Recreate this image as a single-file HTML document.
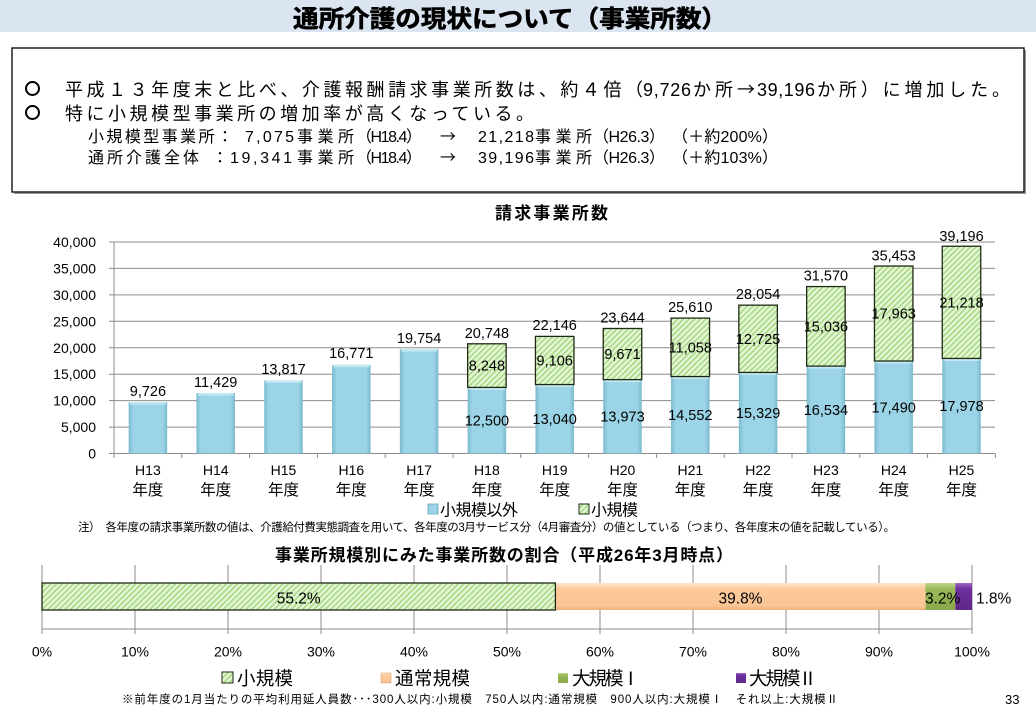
<!DOCTYPE html>
<html><head><meta charset="utf-8"><style>
html,body{margin:0;padding:0;background:#fff;}
svg{display:block;}
.jp{font-family:"Liberation Sans","Noto Sans CJK JP",sans-serif;}
.cjk{font-family:"Noto Sans CJK JP","Liberation Sans",sans-serif;}
.num{font-family:"Liberation Sans","Noto Sans CJK JP",sans-serif;}
</style></head><body>
<svg width="1036" height="716" viewBox="0 0 1036 716" xmlns="http://www.w3.org/2000/svg">
<defs>
<pattern id="hatch" patternUnits="userSpaceOnUse" width="4" height="4" patternTransform="rotate(45)">
<rect width="4" height="4" fill="#e8f7d8"/>
<rect width="1.7" height="4" fill="#a9da88"/>
</pattern>
<linearGradient id="blue" x1="0" y1="0" x2="1" y2="0">
<stop offset="0" stop-color="#7ab9ce"/><stop offset="0.12" stop-color="#9bd4e6"/>
<stop offset="0.88" stop-color="#9bd4e6"/><stop offset="1" stop-color="#7ab9ce"/>
</linearGradient>
<linearGradient id="peach" x1="0" y1="0" x2="0" y2="1">
<stop offset="0" stop-color="#fde6cf"/><stop offset="0.2" stop-color="#fcca9c"/>
<stop offset="0.85" stop-color="#fbc594"/><stop offset="1" stop-color="#eeb07c"/>
</linearGradient>
<linearGradient id="olive" x1="0" y1="0" x2="0" y2="1">
<stop offset="0" stop-color="#c2d88f"/><stop offset="0.2" stop-color="#9bbb59"/><stop offset="1" stop-color="#8aa84c"/>
</linearGradient>
<linearGradient id="purple" x1="0" y1="0" x2="0" y2="1">
<stop offset="0" stop-color="#a06ac4"/><stop offset="0.2" stop-color="#7030a0"/><stop offset="1" stop-color="#5f2888"/>
</linearGradient>
</defs>

<!-- Title bar -->
<rect x="0" y="0" width="1036" height="32" fill="#dbe5f1"/>
<text class="jp" x="293" y="27" font-size="24" font-weight="bold" stroke="#000" stroke-width="0.6" textLength="434" lengthAdjust="spacingAndGlyphs" fill="#000">通所介護の現状について（事業所数）</text>

<!-- Summary box -->
<rect x="14" y="50" width="1012" height="144" fill="#9a9a9a"/>
<rect x="12" y="48" width="1012" height="144" fill="#fff" stroke="#222" stroke-width="1.5"/>

<g fill="none" stroke="#000" stroke-width="2">
<circle cx="32.5" cy="88.5" r="6.5"/>
<circle cx="32.5" cy="112.5" r="6.5"/>
</g>
<g fill="#000">
<text class="jp" x="65" y="96" font-size="18" textLength="578" lengthAdjust="spacing">平成１３年度末と比べ、介護報酬請求事業所数は、約４倍（</text>
<text class="jp" x="643" y="96" font-size="18" textLength="48" lengthAdjust="spacing">9,726</text>
<text class="cjk" x="693" y="96" font-size="18" textLength="62" lengthAdjust="spacing">か所→</text>
<text class="jp" x="757" y="96" font-size="18" textLength="58" lengthAdjust="spacing">39,196</text>
<text class="jp" x="817" y="96" font-size="18" textLength="193" lengthAdjust="spacing">か所）に増加した。</text>

<text class="jp" x="65" y="120" font-size="18" textLength="469" lengthAdjust="spacing">特に小規模型事業所の増加率が高くなっている。</text>
</g>

<g class="jp" font-size="16" fill="#000">
<text x="88" y="142" textLength="145" lengthAdjust="spacing">小規模型事業所：</text>
<text x="245" y="142" textLength="49" lengthAdjust="spacing">7,075</text>
<text x="297" y="142" textLength="57" lengthAdjust="spacing">事業所</text>
<text x="356" y="142" textLength="66" lengthAdjust="spacing">（H18.4）</text>
<text class="cjk" x="440" y="142">→</text>
<text x="478" y="142" textLength="56" lengthAdjust="spacing">21,218</text>
<text x="535" y="142" textLength="57" lengthAdjust="spacing">事業所</text>
<text x="593" y="142" textLength="72" lengthAdjust="spacing">（H26.3）</text>
<text x="672" y="142" textLength="106" lengthAdjust="spacing">（＋約200%）</text>

<text x="88" y="163" textLength="111" lengthAdjust="spacing">通所介護全体</text>
<text x="212" y="163">：</text>
<text x="230" y="163" textLength="62" lengthAdjust="spacing">19,341</text>
<text x="297" y="163" textLength="57" lengthAdjust="spacing">事業所</text>
<text x="356" y="163" textLength="66" lengthAdjust="spacing">（H18.4）</text>
<text class="cjk" x="440" y="163">→</text>
<text x="478" y="163" textLength="56" lengthAdjust="spacing">39,196</text>
<text x="535" y="163" textLength="57" lengthAdjust="spacing">事業所</text>
<text x="593" y="163" textLength="72" lengthAdjust="spacing">（H26.3）</text>
<text x="672" y="163" textLength="106" lengthAdjust="spacing">（＋約103%）</text>
</g>

<!-- Chart 1 title -->
<text class="jp" x="495" y="219" font-size="17" font-weight="bold" textLength="113" lengthAdjust="spacing">請求事業所数</text>

<!-- gridlines -->
<g stroke="#8c8c8c" stroke-width="1">
<line x1="109" y1="242" x2="995" y2="242"/>
<line x1="109" y1="268.4" x2="995" y2="268.4"/>
<line x1="109" y1="294.9" x2="995" y2="294.9"/>
<line x1="109" y1="321.3" x2="995" y2="321.3"/>
<line x1="109" y1="347.8" x2="995" y2="347.8"/>
<line x1="109" y1="374.2" x2="995" y2="374.2"/>
<line x1="109" y1="400.6" x2="995" y2="400.6"/>
<line x1="109" y1="427.1" x2="995" y2="427.1"/>
<line x1="109" y1="453.5" x2="995" y2="453.5"/>
<line x1="114" y1="242" x2="114" y2="458"/>
<line x1="181.8" y1="453.5" x2="181.8" y2="458"/>
<line x1="249.6" y1="453.5" x2="249.6" y2="458"/>
<line x1="317.4" y1="453.5" x2="317.4" y2="458"/>
<line x1="385.2" y1="453.5" x2="385.2" y2="458"/>
<line x1="453" y1="453.5" x2="453" y2="458"/>
<line x1="520.8" y1="453.5" x2="520.8" y2="458"/>
<line x1="588.6" y1="453.5" x2="588.6" y2="458"/>
<line x1="656.4" y1="453.5" x2="656.4" y2="458"/>
<line x1="724.2" y1="453.5" x2="724.2" y2="458"/>
<line x1="792" y1="453.5" x2="792" y2="458"/>
<line x1="859.8" y1="453.5" x2="859.8" y2="458"/>
<line x1="927.6" y1="453.5" x2="927.6" y2="458"/>
<line x1="995.4" y1="453.5" x2="995.4" y2="458"/>
</g>

<!-- y labels -->
<g class="num" font-size="14" fill="#000" text-anchor="end">
<text x="96" y="247">40,000</text>
<text x="96" y="273.4">35,000</text>
<text x="96" y="299.9">30,000</text>
<text x="96" y="326.3">25,000</text>
<text x="96" y="352.8">20,000</text>
<text x="96" y="379.2">15,000</text>
<text x="96" y="405.6">10,000</text>
<text x="96" y="432.1">5,000</text>
<text x="96" y="458.5">0</text>
</g>

<!-- blue bars -->
<g fill="url(#blue)">
<rect x="128.65" y="402.07" width="38.5" height="51.43"/>
<rect x="196.45" y="393.07" width="38.5" height="60.43"/>
<rect x="264.25" y="380.44" width="38.5" height="73.06"/>
<rect x="332.05" y="364.82" width="38.5" height="88.68"/>
<rect x="399.85" y="349.05" width="38.5" height="104.45"/>
<rect x="467.65" y="387.41" width="38.5" height="66.09"/>
<rect x="535.45" y="384.55" width="38.5" height="68.95"/>
<rect x="603.25" y="379.62" width="38.5" height="73.88"/>
<rect x="671.05" y="376.56" width="38.5" height="76.94"/>
<rect x="738.85" y="372.45" width="38.5" height="81.05"/>
<rect x="806.65" y="366.08" width="38.5" height="87.42"/>
<rect x="874.45" y="361.02" width="38.5" height="92.48"/>
<rect x="942.25" y="358.44" width="38.5" height="95.06"/>
</g>
<g fill="#c8ebf5" opacity="0.9">
<rect x="130" y="402.07" width="35.8" height="2.5"/>
<rect x="197.8" y="393.07" width="35.8" height="2.5"/>
<rect x="265.6" y="380.44" width="35.8" height="2.5"/>
<rect x="333.4" y="364.82" width="35.8" height="2.5"/>
<rect x="401.2" y="349.05" width="35.8" height="2.5"/>
<rect x="469" y="387.41" width="35.8" height="2.5"/>
<rect x="536.8" y="384.55" width="35.8" height="2.5"/>
<rect x="604.6" y="379.62" width="35.8" height="2.5"/>
<rect x="672.4" y="376.56" width="35.8" height="2.5"/>
<rect x="740.2" y="372.45" width="35.8" height="2.5"/>
<rect x="808" y="366.08" width="35.8" height="2.5"/>
<rect x="875.8" y="361.02" width="35.8" height="2.5"/>
<rect x="943.6" y="358.44" width="35.8" height="2.5"/>
</g>

<!-- green bars -->
<g fill="url(#hatch)" stroke="#1e2a14" stroke-width="1.3">
<rect x="467.65" y="343.79" width="38.5" height="43.62"/>
<rect x="535.45" y="336.40" width="38.5" height="48.15"/>
<rect x="603.25" y="328.48" width="38.5" height="51.14"/>
<rect x="671.05" y="318.09" width="38.5" height="58.47"/>
<rect x="738.85" y="305.16" width="38.5" height="67.29"/>
<rect x="806.65" y="286.57" width="38.5" height="79.51"/>
<rect x="874.45" y="266.04" width="38.5" height="94.98"/>
<rect x="942.25" y="246.25" width="38.5" height="112.19"/>
</g>

<!-- data labels -->
<g class="num" font-size="14.5" fill="#000" text-anchor="middle">
<text x="147.9" y="396">9,726</text>
<text x="215.7" y="387">11,429</text>
<text x="283.5" y="374">13,817</text>
<text x="351.3" y="358">16,771</text>
<text x="419.1" y="343">19,754</text>
<text x="486.9" y="338">20,748</text>
<text x="554.7" y="330">22,146</text>
<text x="622.5" y="322.5">23,644</text>
<text x="690.3" y="312">25,610</text>
<text x="758.1" y="299">28,054</text>
<text x="825.9" y="280.5">31,570</text>
<text x="893.7" y="260.5">35,453</text>
<text x="961.5" y="241">39,196</text>

<text x="486.9" y="425.5">12,500</text>
<text x="554.7" y="424">13,040</text>
<text x="622.5" y="421.6">13,973</text>
<text x="690.3" y="420">14,552</text>
<text x="758.1" y="418">15,329</text>
<text x="825.9" y="414.8">16,534</text>
<text x="893.7" y="412.3">17,490</text>
<text x="961.5" y="411">17,978</text>

<text x="486.9" y="370.6">8,248</text>
<text x="554.7" y="365.5">9,106</text>
<text x="622.5" y="359">9,671</text>
<text x="690.3" y="352.3">11,058</text>
<text x="758.1" y="343.8">12,725</text>
<text x="825.9" y="331.3">15,036</text>
<text x="893.7" y="318.5">17,963</text>
<text x="961.5" y="307.3">21,218</text>
</g>

<!-- x labels -->
<g class="jp" fill="#000" text-anchor="middle">
<g font-size="14">
<text x="147.9" y="475">H13</text><text x="215.7" y="475">H14</text><text x="283.5" y="475">H15</text>
<text x="351.3" y="475">H16</text><text x="419.1" y="475">H17</text><text x="486.9" y="475">H18</text>
<text x="554.7" y="475">H19</text><text x="622.5" y="475">H20</text><text x="690.3" y="475">H21</text>
<text x="758.1" y="475">H22</text><text x="825.9" y="475">H23</text><text x="893.7" y="475">H24</text>
<text x="961.5" y="475">H25</text>
</g>
<g font-size="15.5">
<text x="147.9" y="495">年度</text><text x="215.7" y="495">年度</text><text x="283.5" y="495">年度</text>
<text x="351.3" y="495">年度</text><text x="419.1" y="495">年度</text><text x="486.9" y="495">年度</text>
<text x="554.7" y="495">年度</text><text x="622.5" y="495">年度</text><text x="690.3" y="495">年度</text>
<text x="758.1" y="495">年度</text><text x="825.9" y="495">年度</text><text x="893.7" y="495">年度</text>
<text x="961.5" y="495">年度</text>
</g>
</g>

<!-- legend 1 -->
<rect x="428" y="504" width="10" height="10" fill="url(#blue)" stroke="#6aa9be" stroke-width="0.8"/>
<text class="jp" x="440" y="515.5" font-size="16" textLength="78" lengthAdjust="spacing">小規模以外</text>
<rect x="579" y="504" width="10" height="10" fill="url(#hatch)" stroke="#1e2a14" stroke-width="1"/>
<text class="jp" x="591" y="515.5" font-size="16" textLength="47" lengthAdjust="spacing">小規模</text>

<!-- note -->
<text class="jp" x="78" y="531" font-size="11.5" textLength="817" lengthAdjust="spacing">注）　各年度の請求事業所数の値は、介護給付費実態調査を用いて、各年度の3月サービス分（4月審査分）の値としている（つまり、各年度末の値を記載している）。</text>

<!-- chart 2 title -->
<text class="jp" x="275" y="561" font-size="17" font-weight="bold" textLength="458" lengthAdjust="spacing">事業所規模別にみた事業所数の割合（平成26年3月時点）</text>

<!-- chart 2 grid -->
<g stroke="#8c8c8c" stroke-width="1">
<line x1="42" y1="565" x2="42" y2="634"/>
<line x1="135" y1="565" x2="135" y2="634"/>
<line x1="228" y1="565" x2="228" y2="634"/>
<line x1="321" y1="565" x2="321" y2="634"/>
<line x1="414" y1="565" x2="414" y2="634"/>
<line x1="507" y1="565" x2="507" y2="634"/>
<line x1="600" y1="565" x2="600" y2="634"/>
<line x1="693" y1="565" x2="693" y2="634"/>
<line x1="786" y1="565" x2="786" y2="634"/>
<line x1="879" y1="565" x2="879" y2="634"/>
<line x1="972" y1="565" x2="972" y2="634"/>
<line x1="42" y1="629" x2="972" y2="629"/>
</g>

<!-- stacked bar -->
<rect x="555.4" y="583" width="370.1" height="27" fill="url(#peach)"/>
<rect x="925.5" y="583" width="29.8" height="27" fill="url(#olive)"/>
<rect x="955.3" y="583" width="16.7" height="27" fill="url(#purple)"/>
<rect x="42" y="583" width="513.4" height="27" fill="url(#hatch)" stroke="#1e2a14" stroke-width="1.3"/>

<g class="num" font-size="15.5" fill="#000">
<text x="298.7" y="603.5" text-anchor="middle">55.2%</text>
<text x="740.5" y="603.5" text-anchor="middle">39.8%</text>
<text x="925" y="603.5">3.2%</text>
<text x="976" y="603.5">1.8%</text>
</g>

<g class="num" font-size="14" fill="#000" text-anchor="middle">
<text x="42" y="656.5">0%</text><text x="135" y="656.5">10%</text><text x="228" y="656.5">20%</text>
<text x="321" y="656.5">30%</text><text x="414" y="656.5">40%</text><text x="507" y="656.5">50%</text>
<text x="600" y="656.5">60%</text><text x="693" y="656.5">70%</text><text x="786" y="656.5">80%</text>
<text x="879" y="656.5">90%</text><text x="972" y="656.5">100%</text>
</g>

<!-- legend 2 -->
<rect x="222" y="672" width="11" height="11" fill="url(#hatch)" stroke="#1e2a14" stroke-width="1"/>
<text class="jp" x="237" y="685" font-size="18.5" textLength="56" lengthAdjust="spacing">小規模</text>
<rect x="381" y="673" width="10" height="10" fill="url(#peach)" stroke="#e0a877" stroke-width="0.6"/>
<text class="jp" x="395" y="685" font-size="18.5" textLength="75" lengthAdjust="spacing">通常規模</text>
<rect x="558" y="673" width="10" height="10" fill="url(#olive)"/>
<text class="cjk" x="572" y="685" font-size="18.5" textLength="68" lengthAdjust="spacing">大規模Ⅰ</text>
<rect x="736" y="673" width="10" height="10" fill="url(#purple)"/>
<text class="cjk" x="749" y="685" font-size="18.5" textLength="68" lengthAdjust="spacing">大規模Ⅱ</text>

<text class="jp" x="122" y="703" font-size="11.5" textLength="716" lengthAdjust="spacing">※前年度の1月当たりの平均利用延人員数･･･300人以内:小規模　750人以内:通常規模　900人以内:大規模Ⅰ　それ以上:大規模Ⅱ</text>
<text class="num" x="1005" y="704" font-size="13">33</text>
</svg>
</body></html>
